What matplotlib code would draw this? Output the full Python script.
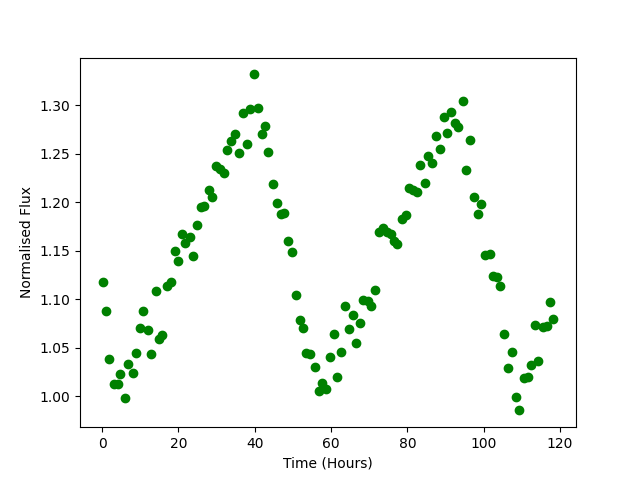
import matplotlib
matplotlib.use("Agg")
import matplotlib.pyplot as plt

time_hours = [
    0.1, 0.9, 1.9, 3.0, 4.1, 4.8, 5.9, 6.9, 8.0, 9.0,
    9.8, 10.8, 11.9, 12.7, 14.0, 14.8, 15.8, 16.9, 18.0, 19.0,
    19.9, 20.8, 21.8, 22.9, 23.7, 24.8, 25.9, 26.7, 27.9, 28.7,
    29.9, 30.9, 32.0, 32.8, 33.7, 34.7, 35.8, 36.8, 37.9, 38.7,
    39.9, 40.9, 41.8, 42.6, 43.6, 44.7, 45.8, 46.8, 47.7, 48.7,
    49.7, 50.8, 51.8, 52.6, 53.5, 54.5, 55.9, 56.8, 57.5, 58.7,
    59.6, 60.8, 61.5, 62.6, 63.6, 64.7, 65.7, 66.6, 67.5, 68.4,
    69.6, 70.6, 71.5, 72.6, 73.6, 74.7, 75.7, 76.6, 77.3, 78.6,
    79.6, 80.4, 81.4, 82.4, 83.4, 84.6, 85.4, 86.4, 87.4, 88.5,
    89.5, 90.4, 91.5, 92.5, 93.4, 94.6, 95.3, 96.5, 97.5, 98.5,
    99.3, 100.4, 101.6, 102.5, 103.5, 104.3, 105.4, 106.5, 107.5, 108.5,
    109.3, 110.5, 111.5, 112.5, 113.4, 114.2, 115.6, 116.7, 117.5, 118.3,
]

normalised_flux = [
    1.1176, 1.0876, 1.0383, 1.0124, 1.0131, 1.0235, 0.9980, 1.0331, 1.0245, 1.0452,
    1.0700, 1.0876, 1.0680, 1.0440, 1.1090, 1.0590, 1.0630, 1.1140, 1.1176, 1.1500,
    1.1400, 1.1670, 1.1586, 1.1648, 1.1448, 1.1766, 1.1955, 1.1962, 1.2124, 1.2051,
    1.2379, 1.2345, 1.2307, 1.2545, 1.2638, 1.2710, 1.2511, 1.2924, 1.2604, 1.2959,
    1.3320, 1.2976, 1.2710, 1.2793, 1.2524, 1.2190, 1.1993, 1.1880, 1.1890, 1.1600,
    1.1486, 1.1050, 1.0790, 1.0700, 1.0450, 1.0438, 1.0307, 1.0052, 1.0142, 1.0076,
    1.0410, 1.0638, 1.0200, 1.0462, 1.0934, 1.0690, 1.0834, 1.0545, 1.0760, 1.0993,
    1.0980, 1.0928, 1.1100, 1.1690, 1.1740, 1.1690, 1.1670, 1.1600, 1.1570, 1.1824,
    1.1872, 1.2148, 1.2131, 1.2107, 1.2386, 1.2200, 1.2475, 1.2407, 1.2683, 1.2552,
    1.2879, 1.2717, 1.2935, 1.2820, 1.2775, 1.3050, 1.2330, 1.2645, 1.2059, 1.1880,
    1.1983, 1.1462, 1.1472, 1.1238, 1.1234, 1.1141, 1.0638, 1.0290, 1.0462, 0.9990,
    0.9855, 1.0186, 1.0200, 1.0328, 1.0734, 1.0362, 1.0717, 1.0724, 1.0970, 1.0797,
]

fig, ax = plt.subplots(figsize=(6.4, 4.8), dpi=100)
ax.plot(time_hours, normalised_flux, 'o', color='green')
ax.set_xlabel('Time (Hours)')
ax.set_ylabel('Normalised Flux')
fig.savefig('out.png', dpi=100)
